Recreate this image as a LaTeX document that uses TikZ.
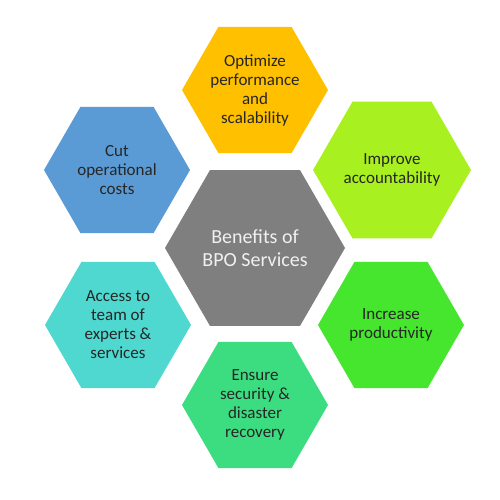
\documentclass[tikz,border=0pt]{standalone}
\usepackage{fontspec}
\setmainfont{Carlito}
\usetikzlibrary{shapes.geometric}

\definecolor{hexgray}{HTML}{7F7F7F}
\definecolor{hexorange}{HTML}{FFC000}
\definecolor{hexlime}{HTML}{A9F020}
\definecolor{hexblue}{HTML}{5B9BD5}
\definecolor{hexgreen}{HTML}{46E62E}
\definecolor{hexteal}{HTML}{4ED8CF}
\definecolor{hexsea}{HTML}{3CDD80}

\tikzset{
  hexa/.style={regular polygon, regular polygon sides=6, minimum size=146pt,
    inner sep=0pt, align=center, text=black!85,
    font=\fontsize{17}{19}\selectfont},
  hexmain/.style={hexa, minimum size=180pt, text=white!94!black,
    font=\fontsize{20}{23}\selectfont}
}

\begin{document}
\begin{tikzpicture}[x=1pt, y=1pt]
  \useasboundingbox[fill=white] (0,0) rectangle (500,-500);

  % Hexagone central
  \node[hexmain, fill=hexgray] (center) at (255,-248) {Benefits of\\BPO Services};

  % Haut
  \node[hexa, fill=hexorange] (optimize) at (255,-90) {Optimize\\performance\\and\\scalability};

  % Droite haut
  \node[hexa, fill=hexlime] (improve) at (392,-170) {Improve\\accountability};

  % Droite bas
  \node[hexa, fill=hexgreen] (increase) at (391,-325) {Increase\\productivity};

  % Bas
  \node[hexa, fill=hexsea] (ensure) at (255,-405) {Ensure\\security \&\\disaster\\recovery};

  % Gauche bas
  \node[hexa, fill=hexteal] (access) at (118,-325) {Access to\\team of\\experts \&\\services};

  % Gauche haut
  \node[hexa, fill=hexblue] (cut) at (117,-170) {Cut\\operational\\costs};
\end{tikzpicture}
\end{document}
